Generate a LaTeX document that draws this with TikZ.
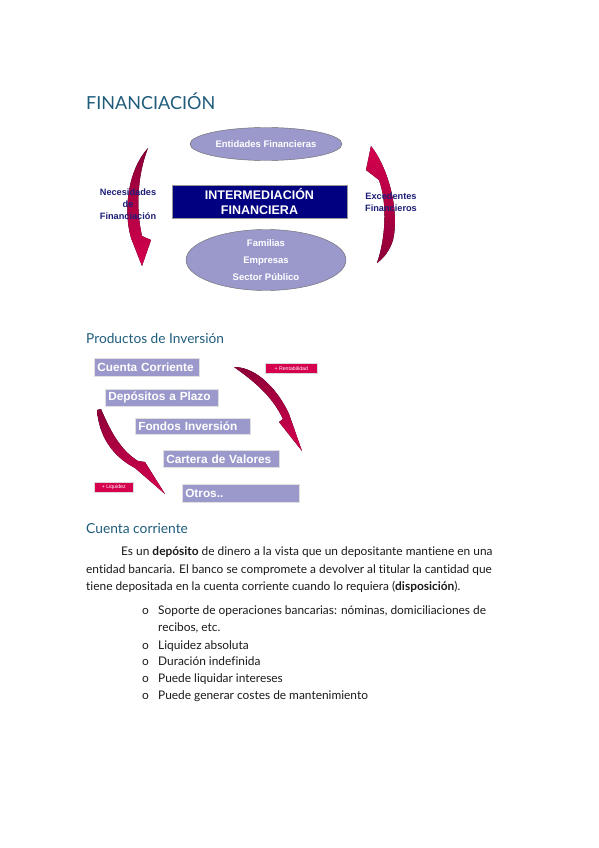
\documentclass[tikz,border=0pt]{standalone}
\usepackage{fontspec}
\setmainfont{Lato}[Ligatures=NoCommon]
\newfontfamily\arialb{Liberation Sans Bold}
\newfontfamily\arialr{Liberation Sans}
\usetikzlibrary{shapes.geometric}
\definecolor{lav}{HTML}{9B99CC}
\definecolor{navyb}{HTML}{000080}
\definecolor{lblnavy}{HTML}{1E1E7A}
\definecolor{crim}{HTML}{D6004F}
\definecolor{crimdark}{HTML}{8C0038}
\definecolor{headc}{HTML}{1F5C7C}
\definecolor{bodyc}{HTML}{1A1A1A}
\tikzset{
  ell/.style={ellipse, draw=black!60, line width=0.4pt, fill=lav, text=white, font=\arialb\fontsize{9.5}{11}\selectfont, inner sep=0pt},
  mainbox/.style={rectangle, fill=navyb, draw=black!40, text=white, font=\arialb\fontsize{12.5}{14.5}\selectfont, align=center, inner sep=0pt},
  sidelbl/.style={text=lblnavy, font=\arialb\fontsize{9.2}{12}\selectfont, align=center, inner sep=0pt},
  pbox/.style={rectangle, fill=lav, draw=black!12, line width=0.6pt, text=white, font=\arialb\fontsize{11.8}{13}\selectfont, align=left, anchor=north west, inner xsep=3pt, inner ysep=0pt},
  tag/.style={rectangle, fill=crim, draw=black!15, line width=0.5pt, text=white, font=\arialr\fontsize{5.2}{5.5}\selectfont, inner xsep=2pt, inner ysep=0pt, anchor=north west},
  heading/.style={text=headc, anchor=base west, inner sep=0pt},
  bodyline/.style={text=bodyc, anchor=base west, inner sep=0pt, font=\fontsize{11.9}{14}\selectfont},
  redarrow/.style={top color=crimdark, bottom color=crim, draw=none},
}
\begin{document}
\begin{tikzpicture}[x=1pt,y=-1pt]
\useasboundingbox[fill=white] (0,0) rectangle (599,848);

% Title
\node[heading, font=\fontsize{18}{21}\selectfont] (title) at (86,110) {FINANCIACIÓN};

% First diagram
\node[ell, minimum width=152pt, minimum height=33pt] (ent) at (266,144) {Entidades Financieras};
\node[mainbox, minimum width=175pt, minimum height=33pt] (inter) at (259.5,201.5) {INTERMEDIACIÓN\\FINANCIERA};
\node[ell, minimum width=160pt, minimum height=61pt, align=center, font=\arialb\fontsize{9.5}{17}\selectfont] (fam) at (266,260) {Familias\\Empresas\\Sector Público};

% left curved arrow (pointing down)
\fill[redarrow] (148,148) .. controls (128,170) and (123,210) .. (131,238) -- (142,266) -- (151,240) -- (142,236) .. controls (136,210) and (137,176) .. (148,148) -- cycle;
\node[sidelbl] (nec) at (128,204) {Necesidades\\de\\Financiación};

% right curved arrow (pointing up)
\fill[redarrow, top color=crim, bottom color=crimdark] (371,146) .. controls (391,172) and (399,215) .. (393,240) .. controls (390,250) and (384,258) .. (377,263) .. controls (385,240) and (388,205) .. (379,180) -- (366,170) -- cycle;
\node[sidelbl] (exc) at (391,202) {Excedentes\\Financieros};

% Productos de Inversion
\node[heading, font=\fontsize{13.7}{16}\selectfont] (prod) at (86,343) {Productos de Inversión};

\node[pbox, minimum width=105pt, text width=99pt, minimum height=18pt] (cc) at (94,358) {Cuenta Corriente};
\node[pbox, minimum width=113pt, text width=107pt, minimum height=17pt] (dp) at (105,389) {Depósitos a Plazo};
\node[pbox, minimum width=115pt, text width=109pt, minimum height=16pt] (fi) at (135,418) {Fondos Inversión};
\node[pbox, minimum width=116pt, text width=110pt, minimum height=17pt] (cv) at (163,450) {Cartera de Valores};
\node[pbox, minimum width=117pt, text width=111pt, minimum height=18pt] (ot) at (182,484) {Otros..};

\node[tag, minimum width=52pt, minimum height=10pt] (rent) at (265,363) {+ Rentabilidad};
\node[tag, minimum width=39pt, minimum height=10pt] (liq) at (94,482) {+ Liquidez};

% arrow to the right (Rentabilidad)
\fill[redarrow] (234,367) .. controls (258,367) and (279,392) .. (289,414) -- (302,451) -- (279,422) -- (283,419) .. controls (272,396) and (255,382) .. (234,367) -- cycle;
% arrow to the left (Liquidez)
\fill[redarrow] (97,410) .. controls (99,436) and (112,456) .. (135,468) -- (165,494) -- (145,462) -- (138,461) .. controls (120,450) and (110,430) .. (101,409) -- cycle;

% Cuenta corriente
\node[heading, font=\fontsize{13.8}{16}\selectfont] (cch) at (86,533) {Cuenta corriente};

\node[bodyline] (p1) at (121,555) {Es un \textbf{depósito} de dinero a la vista que un depositante mantiene en una};
\node[bodyline] (p2) at (86,573) {entidad bancaria. El banco se compromete a devolver al titular la cantidad que};
\node[bodyline] (p3) at (86,590) {tiene depositada en la cuenta corriente cuando lo requiera (\textbf{disposición}).};

\foreach \yy/\nm in {614/b1,649/b2,665/b3,682/b4,699/b5}{
  \node[bodyline] (\nm) at (142,\yy) {o};
}
\node[bodyline] (t1) at (158,614) {Soporte de operaciones bancarias: nóminas, domiciliaciones de};
\node[bodyline] (t1b) at (158,631) {recibos, etc.};
\node[bodyline] (t2) at (158,649) {Liquidez absoluta};
\node[bodyline] (t3) at (158,665) {Duración indefinida};
\node[bodyline] (t4) at (158,682) {Puede liquidar intereses};
\node[bodyline] (t5) at (158,699) {Puede generar costes de mantenimiento};
\end{tikzpicture}
\end{document}
